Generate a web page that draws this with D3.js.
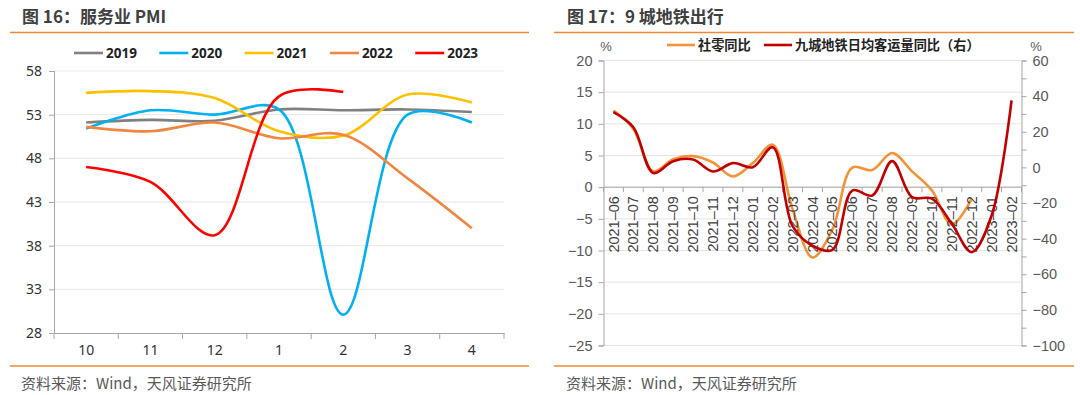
<!DOCTYPE html>
<html>
<head>
<meta charset="utf-8">
<script src="https://cdn.jsdelivr.net/npm/d3@7"></script>
<style>
  body { margin: 0; background: #fff; }
  svg { display: block; }
</style>
</head>
<body>
<svg id="chart" width="1080" height="395"></svg>
<script>
// ---- data: 服务业 PMI ----
const pmiMonths = ["10", "11", "12", "1", "2", "3", "4"];
const pmiYears = ["2019", "2020", "2021", "2022", "2023"];
const pmi2019 = [52.1, 52.4, 52.3, 53.6, 53.5, 53.6, 53.3];
const pmi2020 = [51.4, 53.5, 53.0, 53.6, 30.1, 53.0, 52.1];
const pmi2021 = [55.5, 55.7, 54.9, 51.1, 50.6, 55.3, 54.4];
const pmi2022 = [51.6, 51.1, 52.1, 50.3, 50.7, 45.7, 40.0];
const pmi2023 = [47.0, 45.3, 39.2, 55.1, 55.6, null, null];
const pmiTicks = [28, 33, 38, 43, 48, 53, 58];

// ---- data: 9 城地铁出行 ----
const metroMonths = ["2021-06", "2021-07", "2021-08", "2021-09", "2021-10", "2021-11", "2021-12",
  "2022-01", "2022-02", "2022-03", "2022-04", "2022-05", "2022-06", "2022-07", "2022-08",
  "2022-09", "2022-10", "2022-11", "2022-12", "2023-01", "2023-02"];
const retailYoy = [12.1, 9.2, 2.5, 4.4, 4.9, 3.9, 1.7, 3.8, 6.7, -3.5, -11.1, -6.7, 3.1, 2.7, 5.4,
  2.5, -0.5, -5.9, -1.8, null, null];
const metroYoy = [31, 22.5, -3.1, 3.5, 4.4, -2.3, 2.4, 0.1, 11.3, -33, -44, -46.3, -13, -15.8, 3.5,
  -16.7, -17.6, -31.7, -47.6, -27, 37.6];
const leftTicks = [20, 15, 10, 5, 0, -5, -10, -15, -20, -25];
const rightTicks = [60, 40, 20, 0, -20, -40, -60, -80, -100];

const svg = d3.select("#chart");
const cjk = "'Noto Sans CJK SC', 'Noto Sans', sans-serif";
const arial = "'Liberation Sans', Arial, sans-serif";
const accent = "#F0883A";
const gridColor = "#E6E6E6";
const axisColor = "#A6A6A6";

// ---------- headers / footers ----------
function frame(x0, x1, titleX, title) {
  svg.append("text").attr("x", titleX).attr("y", 23)
    .attr("font-family", cjk).attr("font-size", 17).attr("font-weight", "bold")
    .attr("fill", "#404040").text(title);
  svg.append("line").attr("x1", x0).attr("x2", x1).attr("y1", 32.5).attr("y2", 32.5)
    .attr("stroke", accent).attr("stroke-width", 1.5);
  svg.append("line").attr("x1", x0).attr("x2", x1).attr("y1", 366).attr("y2", 366)
    .attr("stroke", accent).attr("stroke-width", 1.5);
  svg.append("text").attr("x", titleX - 1).attr("y", 389)
    .attr("font-family", cjk).attr("font-size", 15).attr("fill", "#595959")
    .text("资料来源：Wind，天风证券研究所");
}
frame(10, 529, 22, "图 16：服务业 PMI");
frame(554, 1074, 567, "图 17：9 城地铁出行");

// ---------- left chart: PMI ----------
{
  const x = d3.scaleBand().domain(pmiMonths).range([54, 504]);
  const y = d3.scaleLinear().domain([28, 58]).range([333, 71]);
  const bw = x.bandwidth();
  const g = svg.append("g");

  g.selectAll(".grid").data(pmiTicks.filter(d => d !== 28)).join("line")
    .attr("x1", 54).attr("x2", 504).attr("y1", d => y(d)).attr("y2", d => y(d))
    .attr("stroke", gridColor).attr("stroke-width", 1);

  const ya = g.append("g").attr("transform", "translate(54,0)")
    .call(d3.axisLeft(y).tickValues(pmiTicks).tickSize(5).tickPadding(7));
  ya.select(".domain").attr("stroke", axisColor);
  ya.selectAll(".tick line").attr("stroke", axisColor);
  ya.selectAll("text").attr("font-family", "'Noto Sans', sans-serif").attr("font-size", 14).attr("fill", "#333");

  const xa = g.append("g").attr("transform", "translate(0,333)")
    .call(d3.axisBottom(x).tickSize(0).tickPadding(12));
  xa.select(".domain").attr("stroke", axisColor);
  xa.selectAll("text").attr("font-family", "'Noto Sans', sans-serif").attr("font-size", 14).attr("fill", "#333");
  g.selectAll(".xtick").data(pmiMonths.map(d => x(d)).concat([x(pmiMonths[pmiMonths.length - 1]) + bw]))
    .join("line").attr("x1", d => d).attr("x2", d => d).attr("y1", 333).attr("y2", 339)
    .attr("stroke", axisColor);

  const colors = ["#808080", "#00B0F0", "#FFC000", "#F08640", "#FF0000"];
  const series = [pmi2019, pmi2020, pmi2021, pmi2022, pmi2023];
  const line = d3.line()
    .defined(d => d != null)
    .x((d, i) => x(pmiMonths[i]) + bw / 2)
    .y(d => y(d))
    .curve(d3.curveCatmullRom.alpha(0.5));
  series.forEach((s, k) => {
    g.append("path").datum(s).attr("d", line).attr("fill", "none")
      .attr("stroke", colors[k]).attr("stroke-width", 2.6);
  });

  // legend
  pmiYears.forEach((name, k) => {
    const lx = 74 + k * 85.3;
    g.append("line").attr("x1", lx).attr("x2", lx + 29).attr("y1", 53).attr("y2", 53)
      .attr("stroke", colors[k]).attr("stroke-width", 2.6);
    g.append("text").attr("x", lx + 32).attr("y", 57.5)
      .attr("font-family", "'Noto Sans', sans-serif").attr("font-size", 13.5).attr("font-weight", "bold")
      .attr("fill", "#222").text(name);
  });
}

// ---------- right chart: metro ----------
{
  const x = d3.scaleBand().domain(metroMonths).range([603.5, 1021.5]);
  const yL = d3.scaleLinear().domain([-25, 20]).range([345.5, 60.5]);
  const yR = d3.scaleLinear().domain([-100, 60]).range([345.5, 60.5]);
  const bw = x.bandwidth();
  const g = svg.append("g");

  g.selectAll(".grid").data(leftTicks).join("line")
    .attr("x1", 603.5).attr("x2", 1021.5).attr("y1", d => yL(d)).attr("y2", d => yL(d))
    .attr("stroke", gridColor).attr("stroke-width", 1);

  const la = g.append("g").attr("transform", "translate(603.5,0)")
    .call(d3.axisLeft(yL).tickValues(leftTicks).tickSize(5).tickPadding(6));
  la.select(".domain").attr("stroke", axisColor);
  la.selectAll(".tick line").attr("stroke", axisColor);
  la.selectAll("text").attr("font-family", arial).attr("font-size", 14.5).attr("fill", "#595959");

  const ra = g.append("g").attr("transform", "translate(1021.5,0)")
    .call(d3.axisRight(yR).tickValues(d3.range(-100, 61, 10)).tickSize(5).tickPadding(6)
      .tickFormat(d => rightTicks.includes(d) ? d3.format("")(d) : ""));
  ra.select(".domain").attr("stroke", axisColor);
  ra.selectAll(".tick line").attr("stroke", axisColor);
  ra.selectAll("text").attr("font-family", arial).attr("font-size", 14.5).attr("fill", "#595959");

  // category axis at zero
  const y0 = yL(0);
  g.append("line").attr("x1", 603.5).attr("x2", 1021.5).attr("y1", y0).attr("y2", y0).attr("stroke", axisColor);
  g.selectAll(".xtick").data(metroMonths.map(d => x(d)).concat([x(metroMonths[metroMonths.length - 1]) + bw]))
    .join("line").attr("x1", d => d).attr("x2", d => d).attr("y1", y0).attr("y2", y0 + 5)
    .attr("stroke", axisColor);

  const lineL = d3.line().defined(d => d != null)
    .x((d, i) => x(metroMonths[i]) + bw / 2).y(d => yL(d))
    .curve(d3.curveCatmullRom.alpha(0.5));
  const lineR = d3.line().defined(d => d != null)
    .x((d, i) => x(metroMonths[i]) + bw / 2).y(d => yR(d))
    .curve(d3.curveCatmullRom.alpha(0.5));

  g.append("path").datum(retailYoy).attr("d", lineL).attr("fill", "none")
    .attr("stroke", "#F39237").attr("stroke-width", 2.6);

  // labels sit above the series lines as in the reference
  g.selectAll(".xl").data(metroMonths).join("text")
    .attr("transform", d => `translate(${x(d) + bw / 2},${y0 + 9}) rotate(-90)`)
    .attr("text-anchor", "end").attr("dy", "0.35em")
    .attr("font-family", arial).attr("font-size", 14.5).attr("fill", "#404040")
    .text(d => d.replace("-", "–"));

  g.append("path").datum(metroYoy).attr("d", lineR).attr("fill", "none")
    .attr("stroke", "#C00000").attr("stroke-width", 2.6);

  // % units
  [[606, "%"], [1036, "%"]].forEach(([px, t]) => {
    g.append("text").attr("x", px).attr("y", 50.5).attr("text-anchor", "middle")
      .attr("font-family", arial).attr("font-size", 13).attr("fill", "#595959").text(t);
  });

  // legend
  const legend = [["社零同比", "#F39237", 667], ["九城地铁日均客运量同比（右）", "#C00000", 764]];
  legend.forEach(([name, c, lx]) => {
    g.append("line").attr("x1", lx).attr("x2", lx + 28).attr("y1", 45).attr("y2", 45)
      .attr("stroke", c).attr("stroke-width", 2.6);
    g.append("text").attr("x", lx + 31).attr("y", 50)
      .attr("font-family", cjk).attr("font-size", 13.2).attr("font-weight", "bold")
      .attr("fill", "#222").text(name);
  });
}
</script>
</body>
</html>
